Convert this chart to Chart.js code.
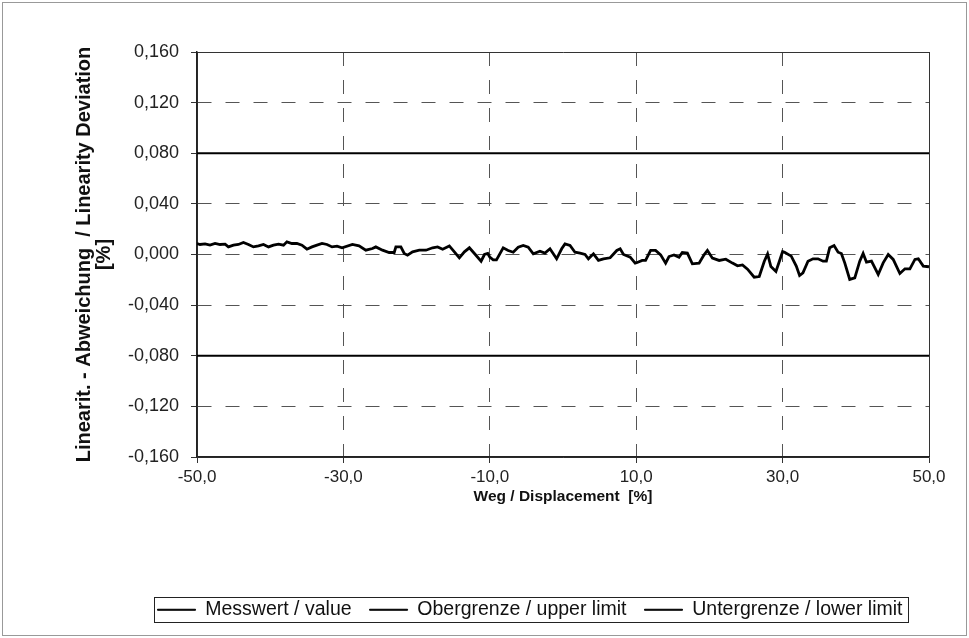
<!DOCTYPE html>
<html><head><meta charset="utf-8">
<script src="https://cdn.jsdelivr.net/npm/chart.js@4.4.1/dist/chart.umd.min.js"></script>
<style>html,body{margin:0;padding:0;background:#fff}#wrap{width:969px;height:638px;position:relative}</style>
</head><body><div id="wrap"><canvas id="c" width="969" height="638"></canvas></div>
<script>
// ---- data ----
const displacement = [
 -50.00,-49.59,-48.90,-48.22,-47.53,-46.85,-46.16,-45.71,-45.02,-44.34,-43.66,-42.97,-42.29,-41.60,-40.92,-40.23,-39.55,-38.86,-38.18,-37.72,-37.03,-36.35,-35.66,-34.98,-34.29,-33.61,-32.92,-32.24,-31.55,-30.87,-30.18,
 -28.77,-27.86,-26.94,-26.03,-25.57,-24.66,-23.75,-23.06,-22.83,-22.15,-21.69,-21.24,-20.55,-19.64,-18.72,-17.81,-17.13,-16.44,-15.53,-14.84,-14.16,-13.47,-12.79,-12.10,-11.19,-10.73,-10.28,
 -10.00,-9.54,-9.09,-8.17,-7.49,-6.80,-6.12,-5.43,-4.75,-4.06,-3.15,-2.47,-1.78,-0.87,-0.18,0.27,0.96,1.64,2.33,3.01,3.47,4.16,4.84,5.53,6.44,7.35,7.81,8.26,9.18,9.86,
 10.14,10.82,11.28,11.97,12.65,13.34,14.02,14.48,15.16,15.85,16.30,16.99,17.67,18.59,19.27,19.73,20.41,21.33,22.24,23.15,23.84,24.52,25.21,26.12,26.81,27.49,27.95,28.40,29.09,29.55,30.00,
 30.27,31.18,31.87,32.32,32.78,33.47,34.15,34.84,35.52,35.98,36.43,37.03,37.58,38.03,38.49,39.17,39.86,40.54,41.00,41.46,42.14,43.06,43.74,44.43,45.11,46.02,46.71,47.39,48.08,48.54,49.22,50.00
];
const deviation = [
 0.0087,0.0079,0.0084,0.0074,0.0087,0.0079,0.0082,0.0060,0.0074,0.0079,0.0095,0.0079,0.0060,0.0068,0.0079,0.0060,0.0074,0.0082,0.0074,0.0100,0.0087,0.0087,0.0074,0.0042,0.0060,0.0074,0.0087,0.0079,0.0060,0.0066,0.0053,
 0.0079,0.0068,0.0034,0.0047,0.0060,0.0034,0.0016,0.0016,0.0060,0.0060,0.0008,-0.0005,0.0021,0.0034,0.0034,0.0053,0.0060,0.0042,0.0068,0.0021,-0.0026,0.0021,0.0053,0.0008,-0.0053,0.0000,0.0008,
 -0.0021,-0.0042,-0.0042,0.0053,0.0032,0.0018,0.0058,0.0071,0.0058,0.0005,0.0026,0.0011,0.0045,-0.0034,0.0045,0.0084,0.0071,0.0018,0.0011,0.0000,-0.0034,0.0005,-0.0047,-0.0034,-0.0026,0.0032,0.0045,0.0000,-0.0021,-0.0068,
 -0.0063,-0.0047,-0.0047,0.0032,0.0032,-0.0003,-0.0068,-0.0016,-0.0003,-0.0021,0.0016,0.0011,-0.0074,-0.0068,-0.0003,0.0032,-0.0029,-0.0047,-0.0037,-0.0068,-0.0089,-0.0082,-0.0116,-0.0179,-0.0174,-0.0055,0.0005,-0.0095,-0.0134,-0.0055,0.0024,
 0.0018,-0.0013,-0.0092,-0.0166,-0.0145,-0.0053,-0.0034,-0.0034,-0.0053,-0.0053,0.0053,0.0071,0.0018,0.0008,-0.0066,-0.0197,-0.0184,-0.0053,0.0008,-0.0061,-0.0053,-0.0158,-0.0066,0.0000,-0.0039,-0.0150,-0.0113,-0.0113,-0.0039,-0.0034,-0.0092,-0.0097
];
const limitX = [-50, 50];
const upperLimit = [0.08, 0.08];
const lowerLimit = [-0.08, -0.08];
const xTicks = [-50, -30, -10, 10, 30, 50];
const yTicks = [-0.16, -0.12, -0.08, -0.04, 0, 0.04, 0.08, 0.12, 0.16];
const seriesNames = ['Messwert / value', 'Obergrenze / upper limit', 'Untergrenze / lower limit'];
const xTitle = 'Weg / Displacement  [%]';
const yTitle = ['Linearit. - Abweichung  / Linearity Deviation', '[%]'];

// ---- chart ----
const FONT = "'Liberation Sans', Arial, sans-serif";
const toPts = (xs, ys) => xs.map((x, i) => ({x: x, y: ys[i]}));
const dashFor = (n) => (ctx) => (ctx.index === 0 || ctx.index === n - 1) ? [] : [14, 14];
const gridColor = (n) => (ctx) => (ctx.index === 0 || ctx.index === n - 1) ? '#333' : '#555';

const framePlugin = {
  id: 'frame',
  beforeDraw(chart) {
    const c = chart.ctx;
    c.save();
    c.fillStyle = '#fff';
    c.fillRect(0, 0, chart.width, chart.height);
    c.strokeStyle = '#999';
    c.lineWidth = 1;
    c.strokeRect(2.5, 2.5, chart.width - 5, chart.height - 5);
    c.restore();
  },
  afterLayout(chart) {
    const L = chart.legend;
    if (!L) return;
    const dx = 530 - (L.left + L.right) / 2;
    L.left += dx; L.right += dx;
  },
  afterDraw(chart) {
    const L = chart.legend;
    if (!L || !L.legendHitBoxes || !L.legendHitBoxes.length) return;
    const hb = L.legendHitBoxes;
    const left = Math.min(...hb.map(h => h.left)) - 4;
    const right = Math.max(...hb.map(h => h.left + h.width)) + 5;
    const cy = hb[0].top + hb[0].height / 2;
    const c = chart.ctx;
    c.save();
    c.strokeStyle = '#222';
    c.lineWidth = 1;
    c.strokeRect(Math.round(left) + 0.5, Math.round(cy - 12.5) + 0.5, Math.round(right - left), 25);
    c.restore();
  }
};

new Chart(document.getElementById('c'), {
  type: 'scatter',
  data: {
    datasets: [
      {label: seriesNames[0], data: toPts(displacement, deviation), showLine: true, borderColor: '#000', backgroundColor: '#000', borderWidth: 2.8, pointRadius: 0, tension: 0, order: 1},
      {label: seriesNames[1], data: toPts(limitX, upperLimit), showLine: true, borderColor: '#000', backgroundColor: '#000', borderWidth: 2, pointRadius: 0, order: 2},
      {label: seriesNames[2], data: toPts(limitX, lowerLimit), showLine: true, borderColor: '#000', backgroundColor: '#000', borderWidth: 2, pointRadius: 0, order: 3}
    ]
  },
  options: {
    responsive: false,
    animation: false,
    devicePixelRatio: 1,
    layout: {padding: {top: 52, right: 40, bottom: 8.5, left: 0}},
    plugins: {
      tooltip: {enabled: false},
      legend: {
        position: 'bottom',
        labels: {
          font: {family: FONT, size: 19.5},
          color: '#111',
          boxWidth: 38,
          boxHeight: 1,
          padding: 18,
          generateLabels(chart) {
            const items = Chart.defaults.plugins.legend.labels.generateLabels(chart);
            items.forEach(it => { it.lineWidth = 1; it.fillStyle = '#000'; it.strokeStyle = '#000'; });
            return items;
          }
        }
      }
    },
    scales: {
      x: {
        type: 'linear', min: -50, max: 50,
        afterBuildTicks: s => { s.ticks = xTicks.map(v => ({value: v})); },
        afterFit: s => { s.height = 125; },
        ticks: {
          callback: v => v.toFixed(1).replace('.', ','),
          font: {family: FONT, size: 17}, color: '#222', padding: 4, maxRotation: 0, autoSkip: false
        },
        grid: {color: gridColor(xTicks.length), lineWidth: 1, tickLength: 6, tickColor: '#333', drawTicks: true},
        border: {display: true, color: '#222', width: 1.5, dash: dashFor(xTicks.length)},
        title: {display: true, text: xTitle, font: {family: FONT, size: 15.5, weight: 'bold'}, color: '#111', padding: {top: 0, bottom: 76}}
      },
      y: {
        type: 'linear', min: -0.16, max: 0.16,
        afterBuildTicks: s => { s.ticks = yTicks.map(v => ({value: v})); },
        afterFit: s => { s.width = 197; },
        ticks: {
          callback: v => v.toFixed(3).replace('.', ','),
          font: {family: FONT, size: 18}, color: '#222', padding: 12, autoSkip: false
        },
        grid: {color: gridColor(yTicks.length), lineWidth: 1, tickLength: 6, tickColor: '#333', drawTicks: true},
        border: {display: true, color: '#222', width: 1.5, dash: dashFor(yTicks.length)},
        title: {display: true, text: yTitle, font: {family: FONT, size: 20, weight: 'bold', lineHeight: 1.0}, color: '#111', padding: {top: 74, bottom: 0}}
      }
    }
  },
  plugins: [framePlugin]
});
</script>
</body></html>
